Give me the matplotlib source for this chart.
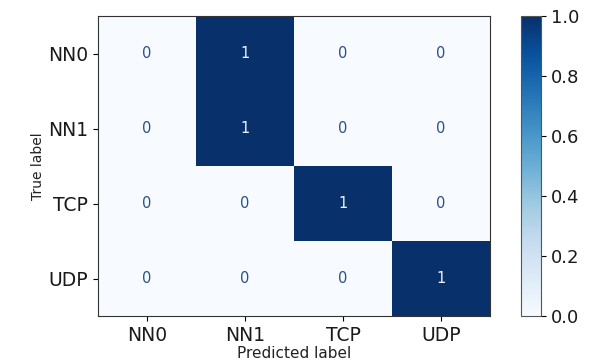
import matplotlib
matplotlib.use("Agg")
import matplotlib.pyplot as plt
import numpy as np

# Confusion matrix of the traffic classifier
class_names = ["NN0", "NN1", "TCP", "UDP"]
row_nn0 = [0, 1, 0, 0]
row_nn1 = [0, 1, 0, 0]
row_tcp = [0, 0, 1, 0]
row_udp = [0, 0, 0, 1]

cm = np.array([row_nn0, row_nn1, row_tcp, row_udp])

fig = plt.figure(figsize=(5.95, 3.61), dpi=100)
ax = fig.add_axes([98 / 595, 1 - 316 / 361, 392 / 595, 300 / 361])
cax = fig.add_axes([521 / 595, 1 - 316 / 361, 20 / 595, 300 / 361])

cmap = plt.get_cmap("Blues")
im = ax.imshow(cm, cmap=cmap, vmin=0, vmax=1, aspect="auto", interpolation="nearest")

thresh = (cm.max() + cm.min()) / 2.0
for i in range(cm.shape[0]):
    for j in range(cm.shape[1]):
        color = "#f0f4fa" if cm[i, j] > thresh else "#2b5089"
        ax.text(j, i, f"{cm[i, j]}", ha="center", va="center", color=color, fontsize=10.5)

ax.set_xticks(range(len(class_names)))
ax.set_yticks(range(len(class_names)))
ax.set_xticklabels(class_names, fontsize=13.5, color="#1a1a1a")
ax.set_yticklabels(class_names, fontsize=13.5, color="#1a1a1a")
ax.set_xlabel("Predicted label", fontsize=11, labelpad=1, color="#222222")
ax.set_ylabel("True label", fontsize=10, labelpad=2, color="#222222")
for s in ax.spines.values():
    s.set_color("#333333")

cb = fig.colorbar(im, cax=cax)
cb.set_ticks([0.0, 0.2, 0.4, 0.6, 0.8, 1.0])
cb.ax.tick_params(labelsize=13, labelcolor="#1a1a1a")
cb.outline.set_edgecolor("#555555")

fig.savefig("out.png", dpi=100)
